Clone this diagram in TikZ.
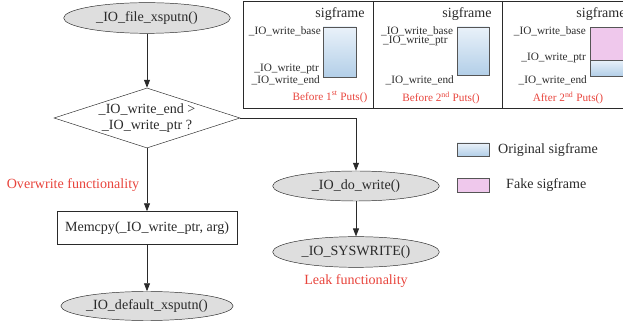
\documentclass[tikz,border=0pt]{standalone}
\usepackage{fontspec}
\setmainfont{Liberation Serif}
\usetikzlibrary{arrows.meta,shapes.geometric}

\definecolor{notered}{HTML}{E8443C}
\definecolor{origtop}{HTML}{E9F1F9}
\definecolor{origbot}{HTML}{B3CFE8}
\definecolor{fakepink}{HTML}{EFC8EC}
\definecolor{inkgray}{HTML}{2A2A2A}
\newcommand\mainsz{\fontsize{12}{13.5}\selectfont}
\newcommand\smallsz{\fontsize{9.6}{10.5}\selectfont}

\begin{document}
\begin{tikzpicture}[
  x=0.03cm, y=-0.03cm,
  >={Triangle[length=2.4mm,width=1.8mm]},
  every node/.style={text=inkgray},
  func/.style={draw=inkgray, ellipse, fill=black!13, minimum width=5cm,
              minimum height=0.92cm, inner sep=0pt, font=\mainsz},
  check/.style={draw=inkgray, diamond, aspect=3.1, inner sep=0pt,
              minimum width=5.58cm, minimum height=1.8cm, align=center,
              font=\mainsz},
  action/.style={draw=inkgray, rectangle, minimum width=5.4cm,
              minimum height=0.99cm, font=\mainsz},
  arr/.style={->, draw=inkgray, line width=0.7pt},
  note/.style={font=\mainsz, text=notered},
  lbl/.style={font=\smallsz, inner sep=0pt},
  head/.style={font=\mainsz, inner sep=0pt},
  orig/.style={draw=inkgray!80, top color=origtop, bottom color=origbot},
  fake/.style={draw=inkgray!80, fill=fakepink},
]
\clip (0,0) rectangle (623,321);

% === Flow chart ===
\node[func] (xsputn) at (147,18) {\_IO\_file\_xsputn()};
\node[check] (cond) at (147,118) {\_IO\_write\_end >\\\_IO\_write\_ptr ?};
\node[action] (memcpy) at (147,228) {Memcpy(\_IO\_write\_ptr, arg)};
\node[func, minimum height=0.87cm] (dflt) at (147,306) {\_IO\_default\_xsputn()};
\node[func, minimum height=0.9cm] (dowrite) at (356,186) {\_IO\_do\_write()};
\node[func] (syswrite) at (356,252) {\_IO\_SYSWRITE()};

\node[note] (overwrite) at (73,185) {Overwrite functionality};
\node[note] (leak) at (356,281) {Leak functionality};

% Arrows
\draw[arr] (xsputn) -- (cond);
\draw[arr] (cond.south) -- (memcpy.north);
\draw[arr] (memcpy) -- (dflt);
\draw[arr] (cond.east) -| (dowrite.north);
\draw[arr] (dowrite) -- (syswrite);

% === Stack snapshots ===
\draw[inkgray, line width=0.7pt] (640,1) -- (243,1) -- (243,108) -- (640,108);
\draw[inkgray, line width=0.7pt] (373,1) -- (373,108);
\draw[inkgray, line width=0.7pt] (502,1) -- (502,108);

% before 1st puts
\node[head] (sf1) at (340,14) {sigframe};
\draw[orig] (323,27) rectangle (356,77);
\node[lbl, anchor=east] (base1) at (321,31) {\_IO\_write\_base};
\node[lbl, anchor=east] (ptr1) at (319,69) {\_IO\_write\_ptr};
\node[lbl, anchor=east] (end1) at (320,80) {\_IO\_write\_end};
\node[lbl, text=notered] (cap1) at (330,97) {Before 1\textsuperscript{st} Puts()};

% before 2nd puts
\node[head] (sf2) at (467,14) {sigframe};
\draw[orig] (457,27) rectangle (489,75);
\node[lbl, anchor=west] (base2) at (381,31) {\_IO\_write\_base};
\node[lbl, anchor=west] (ptr2) at (383,41) {\_IO\_write\_ptr};
\node[lbl, anchor=east] (end2) at (454,80) {\_IO\_write\_end};
\node[lbl, text=notered] (cap2) at (441,98) {Before 2\textsuperscript{nd} Puts()};

% after 2nd puts
\node[head] (sf3) at (601,14) {sigframe};
\draw[orig] (590,60) rectangle (640,76);
\draw[fake] (590,27) rectangle (640,60);
\node[lbl, anchor=east] (base3) at (586,31) {\_IO\_write\_base};
\node[lbl, anchor=east] (ptr3) at (586,58) {\_IO\_write\_ptr};
\node[lbl, anchor=east] (end3) at (587,80) {\_IO\_write\_end};
\node[lbl, text=notered] (cap3) at (568,98) {After 2\textsuperscript{nd} Puts()};

% === Legend ===
\draw[orig] (457,143) rectangle (489,156);
\node[anchor=west, font=\mainsz, inner sep=0pt] (origlbl) at (498,150) {Original sigframe};
\draw[fake] (457,178) rectangle (489,192);
\node[anchor=west, font=\mainsz, inner sep=0pt] (fakelbl) at (506,185) {Fake sigframe};

\end{tikzpicture}
\end{document}
